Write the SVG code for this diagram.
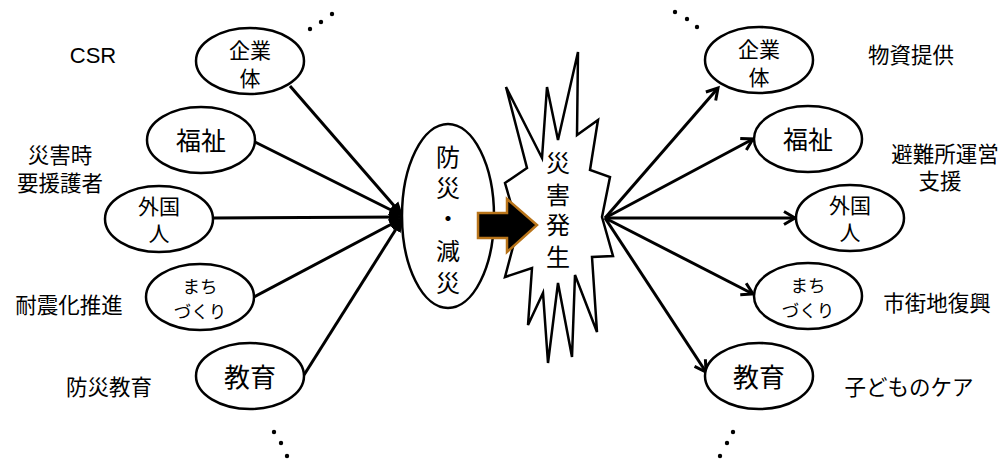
<svg xmlns="http://www.w3.org/2000/svg" width="1005" height="461" viewBox="0 0 1005 461">
  <style>
    .node { fill: #ffffff; stroke: #000000; stroke-width: 2.5; }
    .jp { font-family: "Noto Sans CJK JP", "Noto Sans", sans-serif; fill: #000000; text-anchor: middle; }
    .lbl { font-size: 21.5px; }
    .con { stroke: #000000; stroke-width: 3; fill: none; }
    .dot { fill: #000000; }
  </style>
  <defs>
    <marker id="inHead" markerUnits="userSpaceOnUse" markerWidth="16" markerHeight="14" refX="14" refY="7" orient="auto">
      <path d="M0,1 L14,7 L0,13 Z" fill="#000000"/>
    </marker>
    <marker id="outHead" markerUnits="userSpaceOnUse" markerWidth="16" markerHeight="16" refX="13" refY="8" orient="auto">
      <path d="M2,1.5 L13,8 L2,14.5" fill="none" stroke="#000000" stroke-width="3" stroke-linejoin="miter"/>
    </marker>
  </defs>

  <!-- connectors -->
  <g id="connectors">
    <line class="con" x1="290" y1="86" x2="403" y2="216" marker-end="url(#inHead)"/>
    <line class="con" x1="255" y1="142" x2="403" y2="216" marker-end="url(#inHead)"/>
    <line class="con" x1="213" y1="218" x2="403" y2="217" marker-end="url(#inHead)"/>
    <line class="con" x1="254" y1="297" x2="403" y2="218" marker-end="url(#inHead)"/>
    <line class="con" x1="304" y1="375" x2="403" y2="218" marker-end="url(#inHead)"/>

    <line class="con" x1="605" y1="218" x2="718" y2="88" marker-end="url(#outHead)"/>
    <line class="con" x1="605" y1="218" x2="753" y2="139" marker-end="url(#outHead)"/>
    <line class="con" x1="605" y1="218" x2="795" y2="218" marker-end="url(#outHead)"/>
    <line class="con" x1="605" y1="218" x2="753" y2="294" marker-end="url(#outHead)"/>
    <line class="con" x1="605" y1="218" x2="706" y2="372" marker-end="url(#outHead)"/>
  </g>

  <!-- left nodes -->
  <g id="L-kigyo">
    <ellipse class="node" cx="250" cy="61" rx="54" ry="33"/>
    <text class="jp" x="250" y="58" font-size="21">企業</text>
    <text class="jp" x="250" y="86" font-size="21">体</text>
  </g>
  <g id="L-fukushi">
    <ellipse class="node" cx="201" cy="140" rx="54" ry="33"/>
    <text class="jp" x="201" y="150" font-size="25">福祉</text>
  </g>
  <g id="L-gaikoku">
    <ellipse class="node" cx="159" cy="219" rx="54" ry="33"/>
    <text class="jp" x="159" y="214" font-size="21">外国</text>
    <text class="jp" x="159" y="241" font-size="21">人</text>
  </g>
  <g id="L-machi">
    <ellipse class="node" cx="200" cy="297" rx="54" ry="33"/>
    <text class="jp" x="200" y="293" font-size="17.5">まち</text>
    <text class="jp" x="200" y="318" font-size="17.5">づくり</text>
  </g>
  <g id="L-kyoiku">
    <ellipse class="node" cx="250" cy="376" rx="54" ry="33"/>
    <text class="jp" x="250" y="387" font-size="26">教育</text>
  </g>

  <!-- left labels -->
  <g id="L-labels">
    <text x="93" y="63" font-family="Liberation Sans, Arial, sans-serif" font-size="22" text-anchor="middle">CSR</text>
    <text class="jp lbl" x="60" y="163">災害時</text>
    <text class="jp lbl" x="60" y="191">要援護者</text>
    <text class="jp lbl" x="69" y="313">耐震化推進</text>
    <text class="jp lbl" x="109" y="395">防災教育</text>
  </g>

  <!-- center: bousai / gensai -->
  <g id="bousai">
    <ellipse class="node" cx="448" cy="216" rx="46" ry="92"/>
    <text class="jp" x="448" y="166" font-size="24">防</text>
    <text class="jp" x="448" y="197" font-size="24">災</text>
    <text class="jp" x="448" y="227" font-size="24">・</text>
    <text class="jp" x="448" y="260" font-size="24">減</text>
    <text class="jp" x="448" y="292" font-size="24">災</text>
  </g>

  <!-- starburst -->
  <g id="saigai">
    <polygon fill="#ffffff" stroke="#000000" stroke-width="2.5" stroke-linejoin="miter"
      points="506,87 542,158 547,87 558,140 578,52 577,135 598,120 590,170 610,177 602,217 613,256 592,257 597,332 575,275 572,357 558,283 548,363 543,293 528,325 532,268 505,277 518,228 505,183 527,168"/>
    <text class="jp" x="558" y="172" font-size="24">災</text>
    <text class="jp" x="558" y="204" font-size="24">害</text>
    <text class="jp" x="558" y="234" font-size="24">発</text>
    <text class="jp" x="558" y="266" font-size="24">生</text>
  </g>

  <!-- block arrow -->
  <g id="blockArrow">
    <path d="M478,213 L507,213 L507,199 L537,225 L507,252 L507,238 L478,238 Z" fill="#000000" stroke="#B8741A" stroke-width="2.5" stroke-linejoin="miter"/>
  </g>

  <!-- right nodes -->
  <g id="R-kigyo">
    <ellipse class="node" cx="759" cy="60" rx="54" ry="33"/>
    <text class="jp" x="759" y="57" font-size="21">企業</text>
    <text class="jp" x="759" y="85" font-size="21">体</text>
  </g>
  <g id="R-fukushi">
    <ellipse class="node" cx="808" cy="139" rx="54" ry="33"/>
    <text class="jp" x="808" y="149" font-size="25">福祉</text>
  </g>
  <g id="R-gaikoku">
    <ellipse class="node" cx="850" cy="218" rx="54" ry="33"/>
    <text class="jp" x="850" y="213" font-size="21">外国</text>
    <text class="jp" x="850" y="240" font-size="21">人</text>
  </g>
  <g id="R-machi">
    <ellipse class="node" cx="808" cy="296" rx="54" ry="33"/>
    <text class="jp" x="808" y="292" font-size="17.5">まち</text>
    <text class="jp" x="808" y="317" font-size="17.5">づくり</text>
  </g>
  <g id="R-kyoiku">
    <ellipse class="node" cx="759" cy="376" rx="54" ry="33"/>
    <text class="jp" x="759" y="387" font-size="26">教育</text>
  </g>

  <!-- right labels -->
  <g id="R-labels">
    <text class="jp lbl" x="911" y="63">物資提供</text>
    <text class="jp lbl" x="945" y="162">避難所運営</text>
    <text class="jp lbl" x="940" y="189">支援</text>
    <text class="jp lbl" x="937" y="311">市街地復興</text>
    <text class="jp lbl" x="909" y="395">子どものケア</text>
  </g>

  <!-- ellipsis dots -->
  <g id="dots">
    <circle class="dot" cx="310" cy="29" r="2.2"/>
    <circle class="dot" cx="321" cy="22" r="2.2"/>
    <circle class="dot" cx="332" cy="14" r="2.2"/>
    <circle class="dot" cx="274" cy="432" r="2.2"/>
    <circle class="dot" cx="281" cy="443" r="2.2"/>
    <circle class="dot" cx="287" cy="456" r="2.2"/>
    <circle class="dot" cx="675" cy="12" r="2.2"/>
    <circle class="dot" cx="687" cy="19" r="2.2"/>
    <circle class="dot" cx="697" cy="27" r="2.2"/>
    <circle class="dot" cx="733" cy="432" r="2.2"/>
    <circle class="dot" cx="727" cy="443" r="2.2"/>
    <circle class="dot" cx="720" cy="456" r="2.2"/>
  </g>
</svg>
